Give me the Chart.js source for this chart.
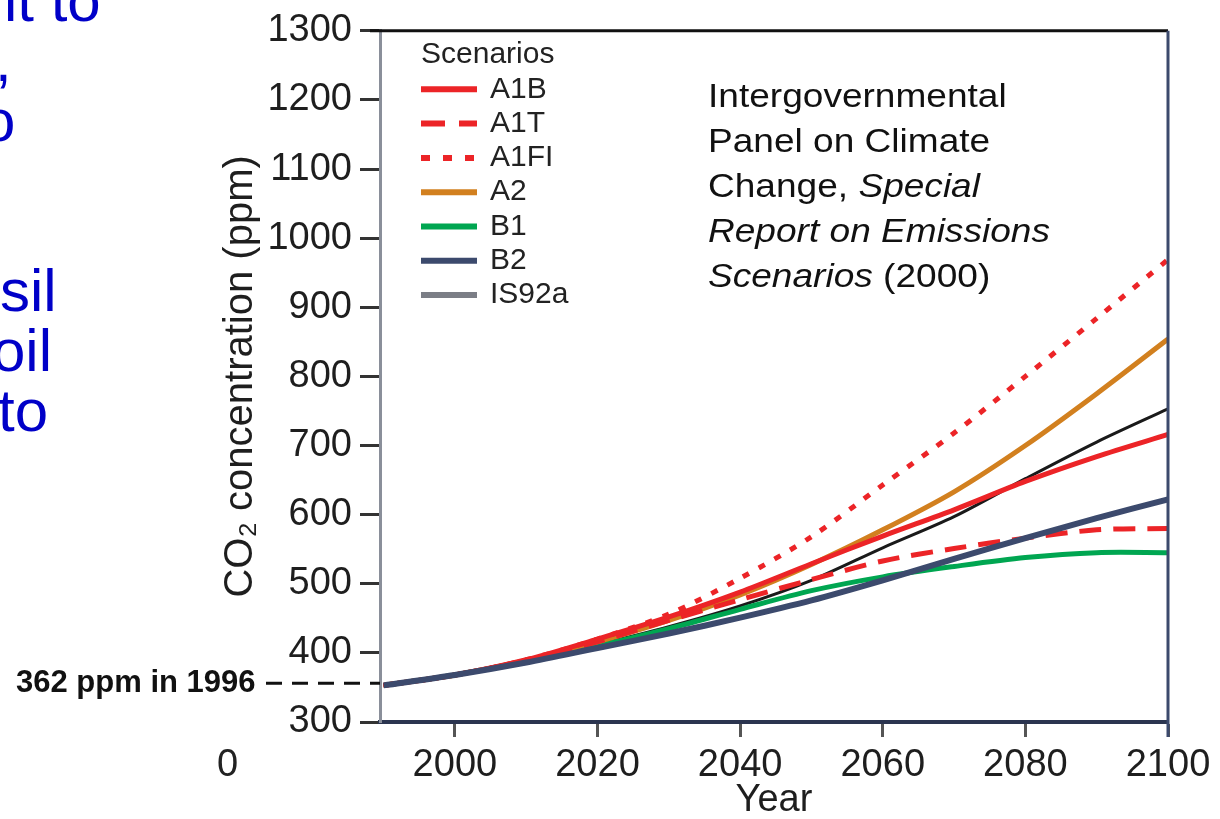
<!DOCTYPE html>
<html lang="en">
<head>
<meta charset="UTF-8">
<title>CO2 concentration scenarios</title>
<script src="https://cdn.jsdelivr.net/npm/chart.js"></script>
<style>
    body { margin: 0; background: #fff; overflow: hidden; }
    #wrap { position: relative; width: 1220px; height: 819px; overflow: hidden; font-family: "Liberation Sans", Arial, sans-serif; }
    #chart { position: absolute; left: 0; top: 0; }
    .slide { position: absolute; color: #0000c8; font-size: 60px; line-height: 60px; white-space: nowrap; }
    #note { position: absolute; left: 708px; top: 73px; font-size: 34px; line-height: 45px; color: #111; transform: scaleX(1.09); transform-origin: left top; white-space: nowrap; }
    #ppm { position: absolute; left: 16px; top: 664px; font-size: 31px; font-weight: bold; color: #111; white-space: nowrap; }
    #zero { position: absolute; left: 217px; top: 742px; font-size: 38px; color: #222; }
</style>
</head>
<body>
<div id="wrap">
    <canvas id="chart" width="1220" height="819"></canvas>
    <!-- cut-off slide text on the left -->
    <div class="slide" style="left:4px; top:-29px;">it to</div>
    <div class="slide" style="left:-5px; top:31px;">,</div>
    <div class="slide" style="left:-18px; top:91px;">o</div>
    <div class="slide" style="left:0px; top:261px;">sil</div>
    <div class="slide" style="left:-8px; top:321px;">oil</div>
    <div class="slide" style="left:-2px; top:381px;">to</div>
    <div id="note">Intergovernmental<br>Panel on Climate<br>Change, <i>Special</i><br><i>Report on Emissions</i><br><i>Scenarios</i> (2000)</div>
    <div id="ppm">362 ppm in 1996</div>
    <div id="zero">0</div>
</div>
<script>
// years and CO2 (ppm) per scenario
const years = [1990, 2000, 2010, 2020, 2030, 2040, 2050, 2060, 2070, 2080, 2090, 2100];
const a1b   = [353, 368, 390, 420, 452, 488, 529, 569, 607, 648, 684, 716];
const a1t   = [353, 368, 389, 416, 447, 477, 506, 533, 551, 566, 578, 580];
const a1fi  = [353, 368, 390, 420, 456, 508, 568, 643, 718, 800, 884, 969];
const a2    = [353, 368, 389, 416, 447, 484, 528, 578, 633, 700, 775, 854];
const b1    = [353, 368, 388, 410, 435, 463, 490, 510, 525, 538, 545, 545];
const b2    = [353, 368, 386, 407, 428, 451, 476, 505, 536, 566, 595, 622];
const is92a = [353, 368, 388, 412, 438, 468, 505, 552, 597, 652, 705, 753];

const xTickValues = [2000, 2020, 2040, 2060, 2080, 2100];
const yMin = 300, yMax = 1300, yStep = 100;

function pts(arr) {
    return years.map((yr, i) => ({ x: yr, y: arr[i] }));
}

const datasets = [
    { label: 'A1B',   data: pts(a1b),   borderColor: '#ec2427', borderWidth: 5, order: 1 },
    { label: 'A1T',   data: pts(a1t),   borderColor: '#ec2427', borderWidth: 5, borderDash: [22, 12], order: 1 },
    { label: 'A1FI',  data: pts(a1fi),  borderColor: '#ec2427', borderWidth: 5, borderDash: [7, 11], order: 1 },
    { label: 'A2',    data: pts(a2),    borderColor: '#d2801f', borderWidth: 5, order: 1 },
    { label: 'B1',    data: pts(b1),    borderColor: '#00a651', borderWidth: 5, order: 1 },
    { label: 'B2',    data: pts(b2),    borderColor: '#3c4a6d', borderWidth: 6, order: 0 },
    { label: 'IS92a', data: pts(is92a), borderColor: '#1a1a1a', borderWidth: 3, order: 1, legendColor: '#7b7e86', legendWidth: 6 }
];
datasets.forEach(d => {
    d.pointRadius = 0;
    d.fill = false;
    d.tension = 0.3;
    d.borderCapStyle = 'butt';
});

// frame, 1996 marker and the in-plot legend
const extras = {
    id: 'extras',
    afterDatasetsDraw(chart) {
        const ctx = chart.ctx;
        const a = chart.chartArea;
        const ys = chart.scales.y;
        ctx.save();
        // top and right frame
        ctx.lineWidth = 3;
        ctx.strokeStyle = '#111';
        ctx.beginPath();
        ctx.moveTo(a.left - 10, a.top);
        ctx.lineTo(a.right, a.top);
        ctx.stroke();
        ctx.strokeStyle = '#3c4a6d';
        ctx.beginPath();
        ctx.moveTo(a.right, a.top);
        ctx.lineTo(a.right, a.bottom + 15);
        ctx.stroke();

        // dashed pointer from the label to the start value
        const y0 = ys.getPixelForValue(b2[0]) - 2;
        ctx.strokeStyle = '#111';
        ctx.lineWidth = 3;
        ctx.setLineDash([16, 10]);
        ctx.beginPath();
        ctx.moveTo(266, y0);
        ctx.lineTo(a.left, y0);
        ctx.stroke();
        ctx.setLineDash([]);

        // legend
        const lx = a.left + 41, tx = a.left + 110;
        let ly = 55;
        ctx.fillStyle = '#222';
        ctx.font = '30px "Liberation Sans", Arial, sans-serif';
        ctx.textBaseline = 'middle';
        ctx.fillText('Scenarios', lx, ly);
        chart.data.datasets.forEach(ds => {
            ly += 34.3;
            ctx.strokeStyle = ds.legendColor || ds.borderColor;
            ctx.lineWidth = ds.legendWidth || 6;
            ctx.setLineDash(ds.borderDash ? ds.borderDash.map(v => v + 2) : []);
            ctx.beginPath();
            ctx.moveTo(lx, ly);
            ctx.lineTo(lx + 56, ly);
            ctx.stroke();
            ctx.setLineDash([]);
            ctx.fillStyle = '#222';
            ctx.fillText(ds.label, tx, ly);
        });
        ctx.restore();
    }
};

const tickFont = { family: '"Liberation Sans", Arial, sans-serif', size: 38 };

new Chart(document.getElementById('chart'), {
    type: 'line',
    data: { datasets: datasets },
    options: {
        responsive: false,
        animation: false,
        layout: { padding: { left: 215, right: 52, top: 27, bottom: 0 } },
        plugins: { legend: { display: false }, tooltip: { enabled: false } },
        scales: {
            x: {
                type: 'linear',
                min: 1989.5,
                max: 2100,
                afterBuildTicks: s => { s.ticks = xTickValues.map(v => ({ value: v })); },
                afterFit: s => { s.height = 97; },
                grid: { drawOnChartArea: false, drawTicks: true, tickLength: 15, tickWidth: 3, tickColor: '#555' },
                border: { display: true, color: '#2b3550', width: 4, dash: [4, 3] },
                ticks: { font: tickFont, color: '#1e1e1e', padding: 6, maxRotation: 0, callback: v => String(v) },
                title: { display: true, text: 'Year', font: tickFont, color: '#1e1e1e', padding: { top: 0, bottom: -4 } }
            },
            y: {
                min: yMin,
                max: yMax,
                afterFit: s => { s.width = 165; },
                grid: { drawOnChartArea: false, drawTicks: true, tickLength: 20, tickWidth: 3, tickColor: '#333' },
                border: { display: true, color: '#8a8f9a', width: 3, dash: [3, 2] },
                ticks: { stepSize: yStep, font: tickFont, color: '#1e1e1e', padding: 8, callback: v => String(v) },
                title: { display: true, text: 'CO\u2082 concentration (ppm)', font: { family: '"Liberation Sans", Arial, sans-serif', size: 40 }, color: '#1e1e1e', padding: { top: 2, bottom: 0 } }
            }
        }
    },
    plugins: [extras]
});
</script>
</body>
</html>
